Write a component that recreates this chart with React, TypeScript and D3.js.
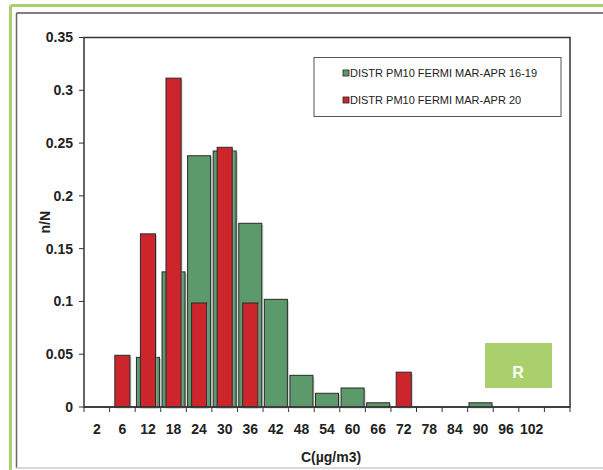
import React from "react";
import * as d3 from "d3";

const categories = ["2", "6", "12", "18", "24", "30", "36", "42", "48", "54", "60", "66", "72", "78", "84", "90", "96", "102", ""];
const series1619 = [0, 0, 0.047, 0.128, 0.238, 0.2425, 0.174, 0.102, 0.03, 0.013, 0.018, 0.004, 0, 0, 0, 0.004, 0, 0, 0];
const series20 = [0, 0.049, 0.164, 0.3115, 0.0985, 0.246, 0.0985, 0, 0, 0, 0, 0, 0.033, 0, 0, 0, 0, 0, 0];
const yTicks = [0, 0.05, 0.1, 0.15, 0.2, 0.25, 0.3, 0.35];
const seriesNames = ["DISTR PM10 FERMI MAR-APR 16-19", "DISTR PM10 FERMI MAR-APR 20"];

const GREEN = "#5d9a6b";
const RED = "#cc252c";
const FONT = "'Liberation Sans', Arial, sans-serif";

export default function App() {
  const left = 84, right = 570, top = 37.5, bottom = 407;
  const idx = categories.map((_, i) => String(i));
  const x = d3.scaleBand<string>().domain(idx).range([left, right]).padding(0);
  const y = d3.scaleLinear().domain([0, 0.35]).range([bottom, top]);
  const bw = x.bandwidth();
  const gW = bw * 0.9;
  const rW = bw * 0.59;
  const fmt = (v: number) => (v === 0 ? "0" : String(+v.toFixed(2)));

  return (
    <svg width={603} height={470} style={{ position: "absolute", left: 0, top: 0, background: "#fff" }} fontFamily={FONT}>
      {/* outer frames */}
      <rect x={0} y={0} width={603} height={470} fill="#fff" />
      <line x1={10.5} y1={5.5} x2={603} y2={5.5} stroke="#a9d06c" strokeWidth={3} />
      <line x1={10.5} y1={5.5} x2={10.5} y2={470} stroke="#a9d06c" strokeWidth={3} />
      <line x1={16.5} y1={13} x2={603} y2={13} stroke="#555" strokeWidth={1.5} />
      <line x1={16.5} y1={13} x2={16.5} y2={468} stroke="#666" strokeWidth={1.5} />
      <line x1={16.5} y1={468} x2={603} y2={468} stroke="#ccc" strokeWidth={1.5} />

      {/* plot area border */}
      <rect x={left} y={top} width={right - left} height={bottom - top} fill="#fff" stroke="#333" strokeWidth={1.5} />

      {/* y ticks */}
      {yTicks.map((t) => (
        <g key={t}>
          <line x1={left - 5} x2={left} y1={y(t)} y2={y(t)} stroke="#333" strokeWidth={1} />
          <text x={left - 11} y={y(t)} dy="0.35em" textAnchor="end" fontSize={14} fontWeight="bold" fill="#222">
            {fmt(t)}
          </text>
        </g>
      ))}

      {/* x ticks */}
      {idx.map((k) => (
        <line key={"t" + k} x1={x(k)!} x2={x(k)!} y1={bottom} y2={bottom + 5} stroke="#333" strokeWidth={1} />
      ))}
      <line x1={right} x2={right} y1={bottom} y2={bottom + 5} stroke="#333" strokeWidth={1} />
      {categories.map((c, i) => (
        <text key={"l" + i} x={x(String(i))! + bw / 2} y={434} textAnchor="middle" fontSize={14} fontWeight="bold" fill="#222">
          {c}
        </text>
      ))}

      {/* green bars */}
      {series1619.map((v, i) =>
        v > 0 ? (
          <g key={"g" + i}>
            <rect x={x(String(i))! + (bw - gW) / 2 + 1.5} y={y(v) + 1.5} width={gW} height={bottom - y(v)} fill="#aaa" opacity={0.6} />
            <rect x={x(String(i))! + (bw - gW) / 2} y={y(v)} width={gW} height={bottom - y(v)} fill={GREEN} stroke="#2a2a2a" strokeWidth={1} />
          </g>
        ) : null
      )}
      {/* red bars */}
      {series20.map((v, i) =>
        v > 0 ? (
          <g key={"r" + i}>
            <rect x={x(String(i))! + (bw - rW) / 2 + 1.5} y={y(v) + 1.5} width={rW} height={bottom - y(v)} fill="#aaa" opacity={0.6} />
            <rect x={x(String(i))! + (bw - rW) / 2} y={y(v)} width={rW} height={bottom - y(v)} fill={RED} stroke="#2a2a2a" strokeWidth={1} />
          </g>
        ) : null
      )}
      <line x1={left} x2={right} y1={bottom} y2={bottom} stroke="#333" strokeWidth={1.5} />

      {/* legend */}
      <rect x={314} y={57.5} width={247} height={59} fill="#fff" stroke="#555" strokeWidth={1} />
      <rect x={343} y={70} width={6} height={6} fill={GREEN} stroke="#222" strokeWidth={0.8} />
      <text x={350} y={73} dy="0.35em" fontSize={11} fill="#222">{seriesNames[0]}</text>
      <rect x={343} y={97} width={6} height={6} fill={RED} stroke="#222" strokeWidth={0.8} />
      <text x={350} y={100} dy="0.35em" fontSize={11} fill="#222">{seriesNames[1]}</text>

      {/* axis titles */}
      <text transform={`translate(45,${(top + bottom) / 2}) rotate(-90)`} textAnchor="middle" fontSize={14} fontWeight="bold" fill="#222" dy="0.35em">
        n/N
      </text>
      <text x={331} y={462} textAnchor="middle" fontSize={14} fontWeight="bold" fill="#222">
        C(µg/m3)
      </text>

      {/* R badge */}
      <rect x={485} y={343} width={67} height={45} fill="#a9d06c" />
      <text x={518} y={378} textAnchor="middle" fontSize={16} fontWeight="bold" fill="#fff">R</text>
    </svg>
  );
}
